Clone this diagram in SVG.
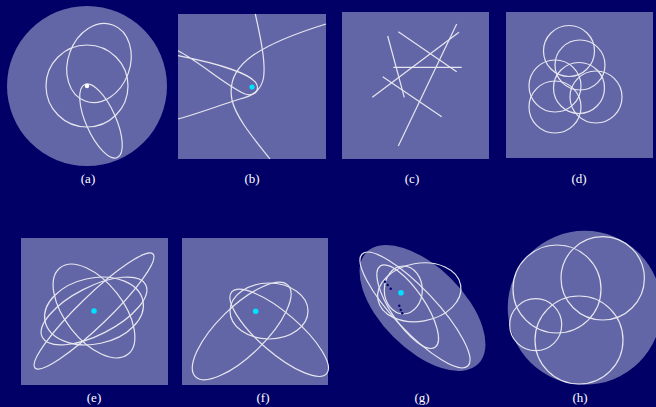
<svg xmlns="http://www.w3.org/2000/svg" width="656" height="407" viewBox="0 0 656 407">
<style>
.bg{fill:#000066}
.panel{fill:#6366a6}
.c{fill:none;stroke:#e6e6f0;stroke-width:1.2}
.lbl{font-family:"Liberation Serif","Times New Roman",serif;font-size:13px;fill:#ffffff;text-anchor:middle}
.cy{fill:#00e0ff}
.dk{fill:#000066}
</style>
<rect class="bg" x="0" y="0" width="656" height="407"/>
<g id="panel-a">
<circle class="panel" cx="87" cy="86" r="80"/>
<circle class="c" cx="87" cy="86" r="41"/>
<ellipse class="c" cx="99" cy="63" rx="31" ry="40.5" transform="rotate(20 99 63)"/>
<ellipse class="c" cx="101" cy="121" rx="15" ry="40" transform="rotate(-24 101 121)"/>
<circle cx="87" cy="86" r="2.2" fill="#ffffff"/>
<text class="lbl" x="88" y="183">(a)</text>
</g>
<g id="panel-b">
<rect class="panel" x="178" y="14" width="148" height="145"/>
<path class="c" d="M255.3,14 C260,35 266,62 263.5,78 C261,91 252,96 240,99 C220,105 200,113 178,119"/>
<path class="c" d="M178,50.7 C200,62 225,85 245,94 C255,97 260,90 256,83 C250,74 220,64 178,55.7"/>
<path class="c" d="M270,159 C255,140 236,118 232,100 C228,80 238,66 252,56 C272,42 300,32 326,24"/>
<circle class="cy" cx="252" cy="87" r="2.6"/>
<text class="lbl" x="252" y="183">(b)</text>
</g>
<g id="panel-c">
<rect class="panel" x="342" y="12" width="147" height="147"/>
<line class="c" x1="387.7" y1="36" x2="404.3" y2="97.3"/>
<line class="c" x1="398.3" y1="31.7" x2="456.7" y2="71.7"/>
<line class="c" x1="393.3" y1="67.3" x2="461.7" y2="67.3"/>
<line class="c" x1="372.3" y1="97.3" x2="459" y2="32.3"/>
<line class="c" x1="382.7" y1="76.7" x2="441.7" y2="116.7"/>
<line class="c" x1="398.3" y1="146" x2="456.7" y2="24"/>
<text class="lbl" x="412" y="183">(c)</text>
</g>
<g id="panel-d">
<rect class="panel" x="506" y="12" width="147" height="146"/>
<circle class="c" cx="569" cy="51" r="25.5"/>
<circle class="c" cx="580" cy="65" r="25"/>
<circle class="c" cx="555" cy="86" r="26"/>
<circle class="c" cx="579" cy="88" r="25.5"/>
<circle class="c" cx="596" cy="97" r="26"/>
<circle class="c" cx="555" cy="107" r="26"/>
<text class="lbl" x="579" y="183">(d)</text>
</g>
<g id="panel-e">
<rect class="panel" x="21" y="238" width="147" height="147"/>
<ellipse class="c" cx="94" cy="311" rx="82" ry="15" transform="rotate(-44 94 311)"/>
<ellipse class="c" cx="94" cy="311" rx="58" ry="24" transform="rotate(-27 94 311)"/>
<ellipse class="c" cx="94" cy="311" rx="55" ry="29" transform="rotate(52 94 311)"/>
<ellipse class="c" cx="94" cy="311" rx="50" ry="33" transform="rotate(-12 94 311)"/>
<circle class="cy" cx="94" cy="311" r="2.8"/>
<text class="lbl" x="94" y="401.5">(e)</text>
</g>
<g id="panel-f">
<rect class="panel" x="182" y="238" width="146" height="147"/>
<ellipse class="c" cx="269" cy="311" rx="39" ry="28"/>
<ellipse class="c" cx="241.7" cy="331" rx="65" ry="24" transform="rotate(-44.5 241.7 331)"/>
<ellipse class="c" cx="279.2" cy="332.8" rx="62.6" ry="20" transform="rotate(40.7 279.2 332.8)"/>
<circle class="cy" cx="255.7" cy="311.3" r="2.8"/>
<text class="lbl" x="263" y="401.5">(f)</text>
</g>
<g id="panel-g">
<ellipse class="panel" cx="422.5" cy="308" rx="79" ry="41" transform="rotate(45 422.5 308)"/>
<ellipse class="c" cx="415" cy="310" rx="77" ry="21" transform="rotate(46.7 415 310)"/>
<ellipse class="c" cx="407.7" cy="306.7" rx="49" ry="17" transform="rotate(56 407.7 306.7)"/>
<ellipse class="c" cx="419.3" cy="292.3" rx="42" ry="29" transform="rotate(-10 419.3 292.3)"/>
<ellipse class="c" cx="403.3" cy="290" rx="19" ry="24"/>
<circle class="dk" cx="385" cy="281.7" r="1.2"/>
<circle class="dk" cx="387.7" cy="285" r="1.2"/>
<circle class="dk" cx="390.7" cy="288.7" r="1.2"/>
<circle class="dk" cx="399.3" cy="305.7" r="1.2"/>
<circle class="dk" cx="400.7" cy="310" r="1.2"/>
<circle class="dk" cx="402.3" cy="313.3" r="1.2"/>
<circle class="cy" cx="401" cy="292.7" r="2.8"/>
<text class="lbl" x="422" y="401.5">(g)</text>
</g>
<g id="panel-h">
<circle class="panel" cx="584.7" cy="307.8" r="77"/>
<circle class="c" cx="557" cy="289" r="44"/>
<circle class="c" cx="602.7" cy="278.3" r="41.7"/>
<circle class="c" cx="535.7" cy="324.7" r="26"/>
<circle class="c" cx="579" cy="340" r="44"/>
<text class="lbl" x="580" y="401.5">(h)</text>
</g>
<g id="connectors"></g>
</svg>
